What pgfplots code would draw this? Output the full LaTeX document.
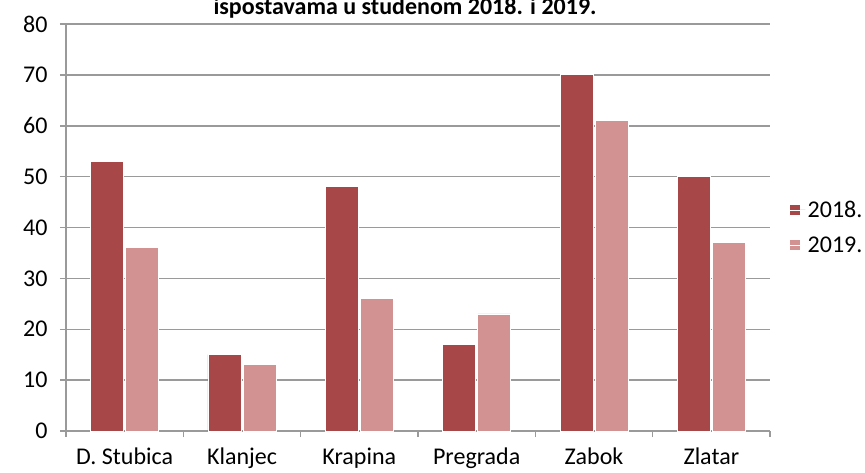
\documentclass[border=0pt]{standalone}
\usepackage{pgfplots}
\pgfplotsset{compat=1.18}
\usepackage{fontspec}
\setmainfont{Carlito}
\definecolor{darkred}{HTML}{A84747}
\definecolor{pinkish}{HTML}{D39292}
\definecolor{gridgray}{HTML}{9A9A9A}
\begin{document}
\begin{tikzpicture}[x=1pt,y=1pt]
\path[use as bounding box] (0,0) rectangle (865,472);
\node[anchor=base, font=\fontsize{24}{28}\selectfont\bfseries, inner sep=0pt] at (405,457) {ispostavama u studenom 2018. i 2019.};
\begin{axis}[
  at={(66pt,41pt)}, anchor=south west,
  scale only axis, width=704pt, height=407pt,
  xmin=-0.5, xmax=5.5, ymin=0, ymax=80,
  ybar=2pt, bar width=33pt,
  axis x line*=bottom, axis y line*=left,
  axis line style={gridgray, line width=1.5pt},
  ytick={0,10,...,80},
  ymajorgrids, grid style={gridgray, line width=1.5pt},
  y tick style={gridgray, line width=1.5pt},
  x tick style={gridgray, line width=1.5pt},
  tick align=outside, major tick length=6pt,
  xtick={-0.5,0.5,...,5.5}, xticklabels={},
  extra x ticks={0,1,2,3,4,5},
  extra x tick labels={D. Stubica,Klanjec,Krapina,Pregrada,Zabok,Zlatar},
  extra x tick style={major tick length=0pt, grid=none},
  xticklabel style={yshift=-13pt},
  yticklabel style={xshift=-9pt},
  ticklabel style={font=\fontsize{24}{28}\selectfont},
  /pgf/number format/assume math mode=true,
  legend style={at={(1.028,0.5)}, anchor=west, draw=none, fill=none,
    font=\fontsize{24}{28}\selectfont, row sep=14pt, inner sep=0pt},
  legend cell align=left,
  legend image code/.code={\fill[#1, draw=none] (0pt,-5pt) rectangle (10pt,5pt);\path (0pt,0pt) -- (15pt,0pt);},
]
\addplot[fill=darkred, draw=white, line width=0.8pt] coordinates {(0,53) (1,15) (2,48) (3,17) (4,70) (5,50)};
\addplot[fill=pinkish, draw=white, line width=0.8pt] coordinates {(0,36) (1,13) (2,26) (3,23) (4,61) (5,37)};
\legend{2018.,2019.}
\end{axis}
\end{tikzpicture}
\end{document}
